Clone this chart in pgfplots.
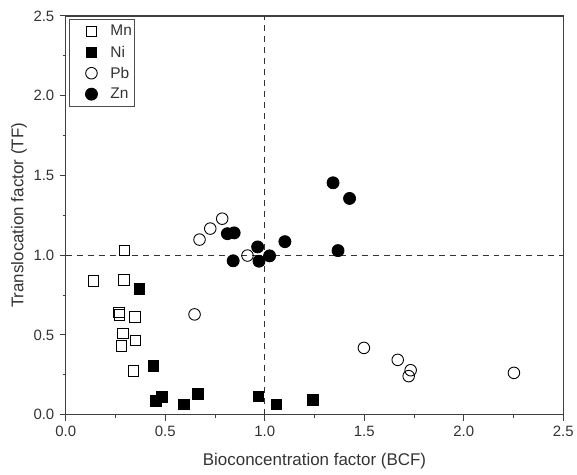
\documentclass[border=0pt]{standalone}
\usepackage{fontspec}
\setmainfont{Liberation Sans}
\usepackage{pgfplots}
\pgfplotsset{compat=1.18}
\begin{document}
\begin{tikzpicture}
\begin{axis}[
  name=ax,
  scale only axis, width=499pt, height=400pt,
  xmin=0, xmax=2.5, ymin=0, ymax=2.5,
  xtick={0,0.5,1,1.5,2,2.5}, ytick={0,0.5,1,1.5,2,2.5},
  minor tick num=1,
  tick align=outside,
  xtick pos=bottom, ytick pos=left,
  major tick length=6pt, minor tick length=3pt,
  axis line style={line width=1.2pt, black!75},
  tick style={line width=1pt, black!75},
  /pgf/number format/assume math mode=true,
  /pgf/number format/.cd, fixed, fixed zerofill, precision=1, /pgfplots/.cd,
  tick label style={font=\fontsize{15}{17}\selectfont, text=black!80},
  yticklabel style={xshift=-2pt},
  xticklabel style={yshift=-2pt},
  label style={font=\fontsize{17}{20}\selectfont, text=black!80},
  xlabel={Bioconcentration factor (BCF)},
  ylabel={Translocation factor (TF)},
  xlabel style={at={(axis description cs:0.5,-0.1175)}, anchor=center},
  ylabel style={at={(axis description cs:-0.0942,0.5)}, anchor=center},
  legend style={at={(0.0066,0.9925)}, anchor=north west, draw=black!70, line width=0.9pt,
    font=\fontsize{15.5}{17}\selectfont, row sep=0pt, column sep=0pt, inner xsep=1pt, inner ysep=1.5pt,
    nodes={text=black!80, inner xsep=2pt, inner ysep=0pt}},
  legend cell align=left,
  legend image code/.code={\node[anchor=center, inner sep=0pt, outer sep=0pt, minimum width=38pt, minimum height=21pt] at (-2pt,0pt) {}; \draw[#1] plot coordinates {(0pt,0pt)};},
]
\addplot[forget plot, dashed, line width=1pt, black!80, dash pattern=on 6pt off 5pt] coordinates {(1,0) (1,2.5)};
\addplot[forget plot, dashed, line width=1pt, black!80, dash pattern=on 6pt off 5pt] coordinates {(0,1) (2.5,1)};
\addplot[only marks, mark=square, mark size=5.3pt, mark options={line width=0.9pt, black, fill=white}] coordinates {
(0.138,0.84) (0.295,1.03) (0.292,0.845) (0.267,0.64) (0.27,0.626) (0.347,0.614)
(0.287,0.51) (0.35,0.467) (0.28,0.433) (0.34,0.273)
};
\addlegendentry{Mn}
\addplot[only marks, mark=square*, mark size=5.3pt, mark options={line width=0.9pt, black, fill=black}] coordinates {
(0.37,0.79) (0.44,0.306) (0.454,0.0875) (0.482,0.1125) (0.594,0.064) (0.664,0.129)
(0.968,0.114) (1.058,0.064) (1.243,0.092)
};
\addlegendentry{Ni}
\addplot[only marks, mark=o, mark size=5.8pt, mark options={line width=0.9pt, black, fill=white}] coordinates {
(0.672,1.098) (0.726,1.167) (0.786,1.229) (0.913,0.998) (0.647,0.629)
(1.498,0.419) (1.668,0.344) (1.733,0.279) (1.723,0.242) (2.252,0.2625)
};
\addlegendentry{Pb}
\addplot[only marks, mark=*, mark size=6pt, mark options={line width=0.9pt, black, fill=black}] coordinates {
(0.812,1.135) (0.846,1.14) (0.841,0.965) (0.964,1.052) (0.971,0.9625) (1.024,0.996)
(1.101,1.085) (1.343,1.454) (1.426,1.356) (1.368,1.029)
};
\addlegendentry{Zn}
\end{axis}
\path (ax.south west) ++(-66pt,-60pt) coordinate (bl);
\path (ax.north east) ++(12pt,16pt) coordinate (tr);
\end{tikzpicture}
\end{document}
